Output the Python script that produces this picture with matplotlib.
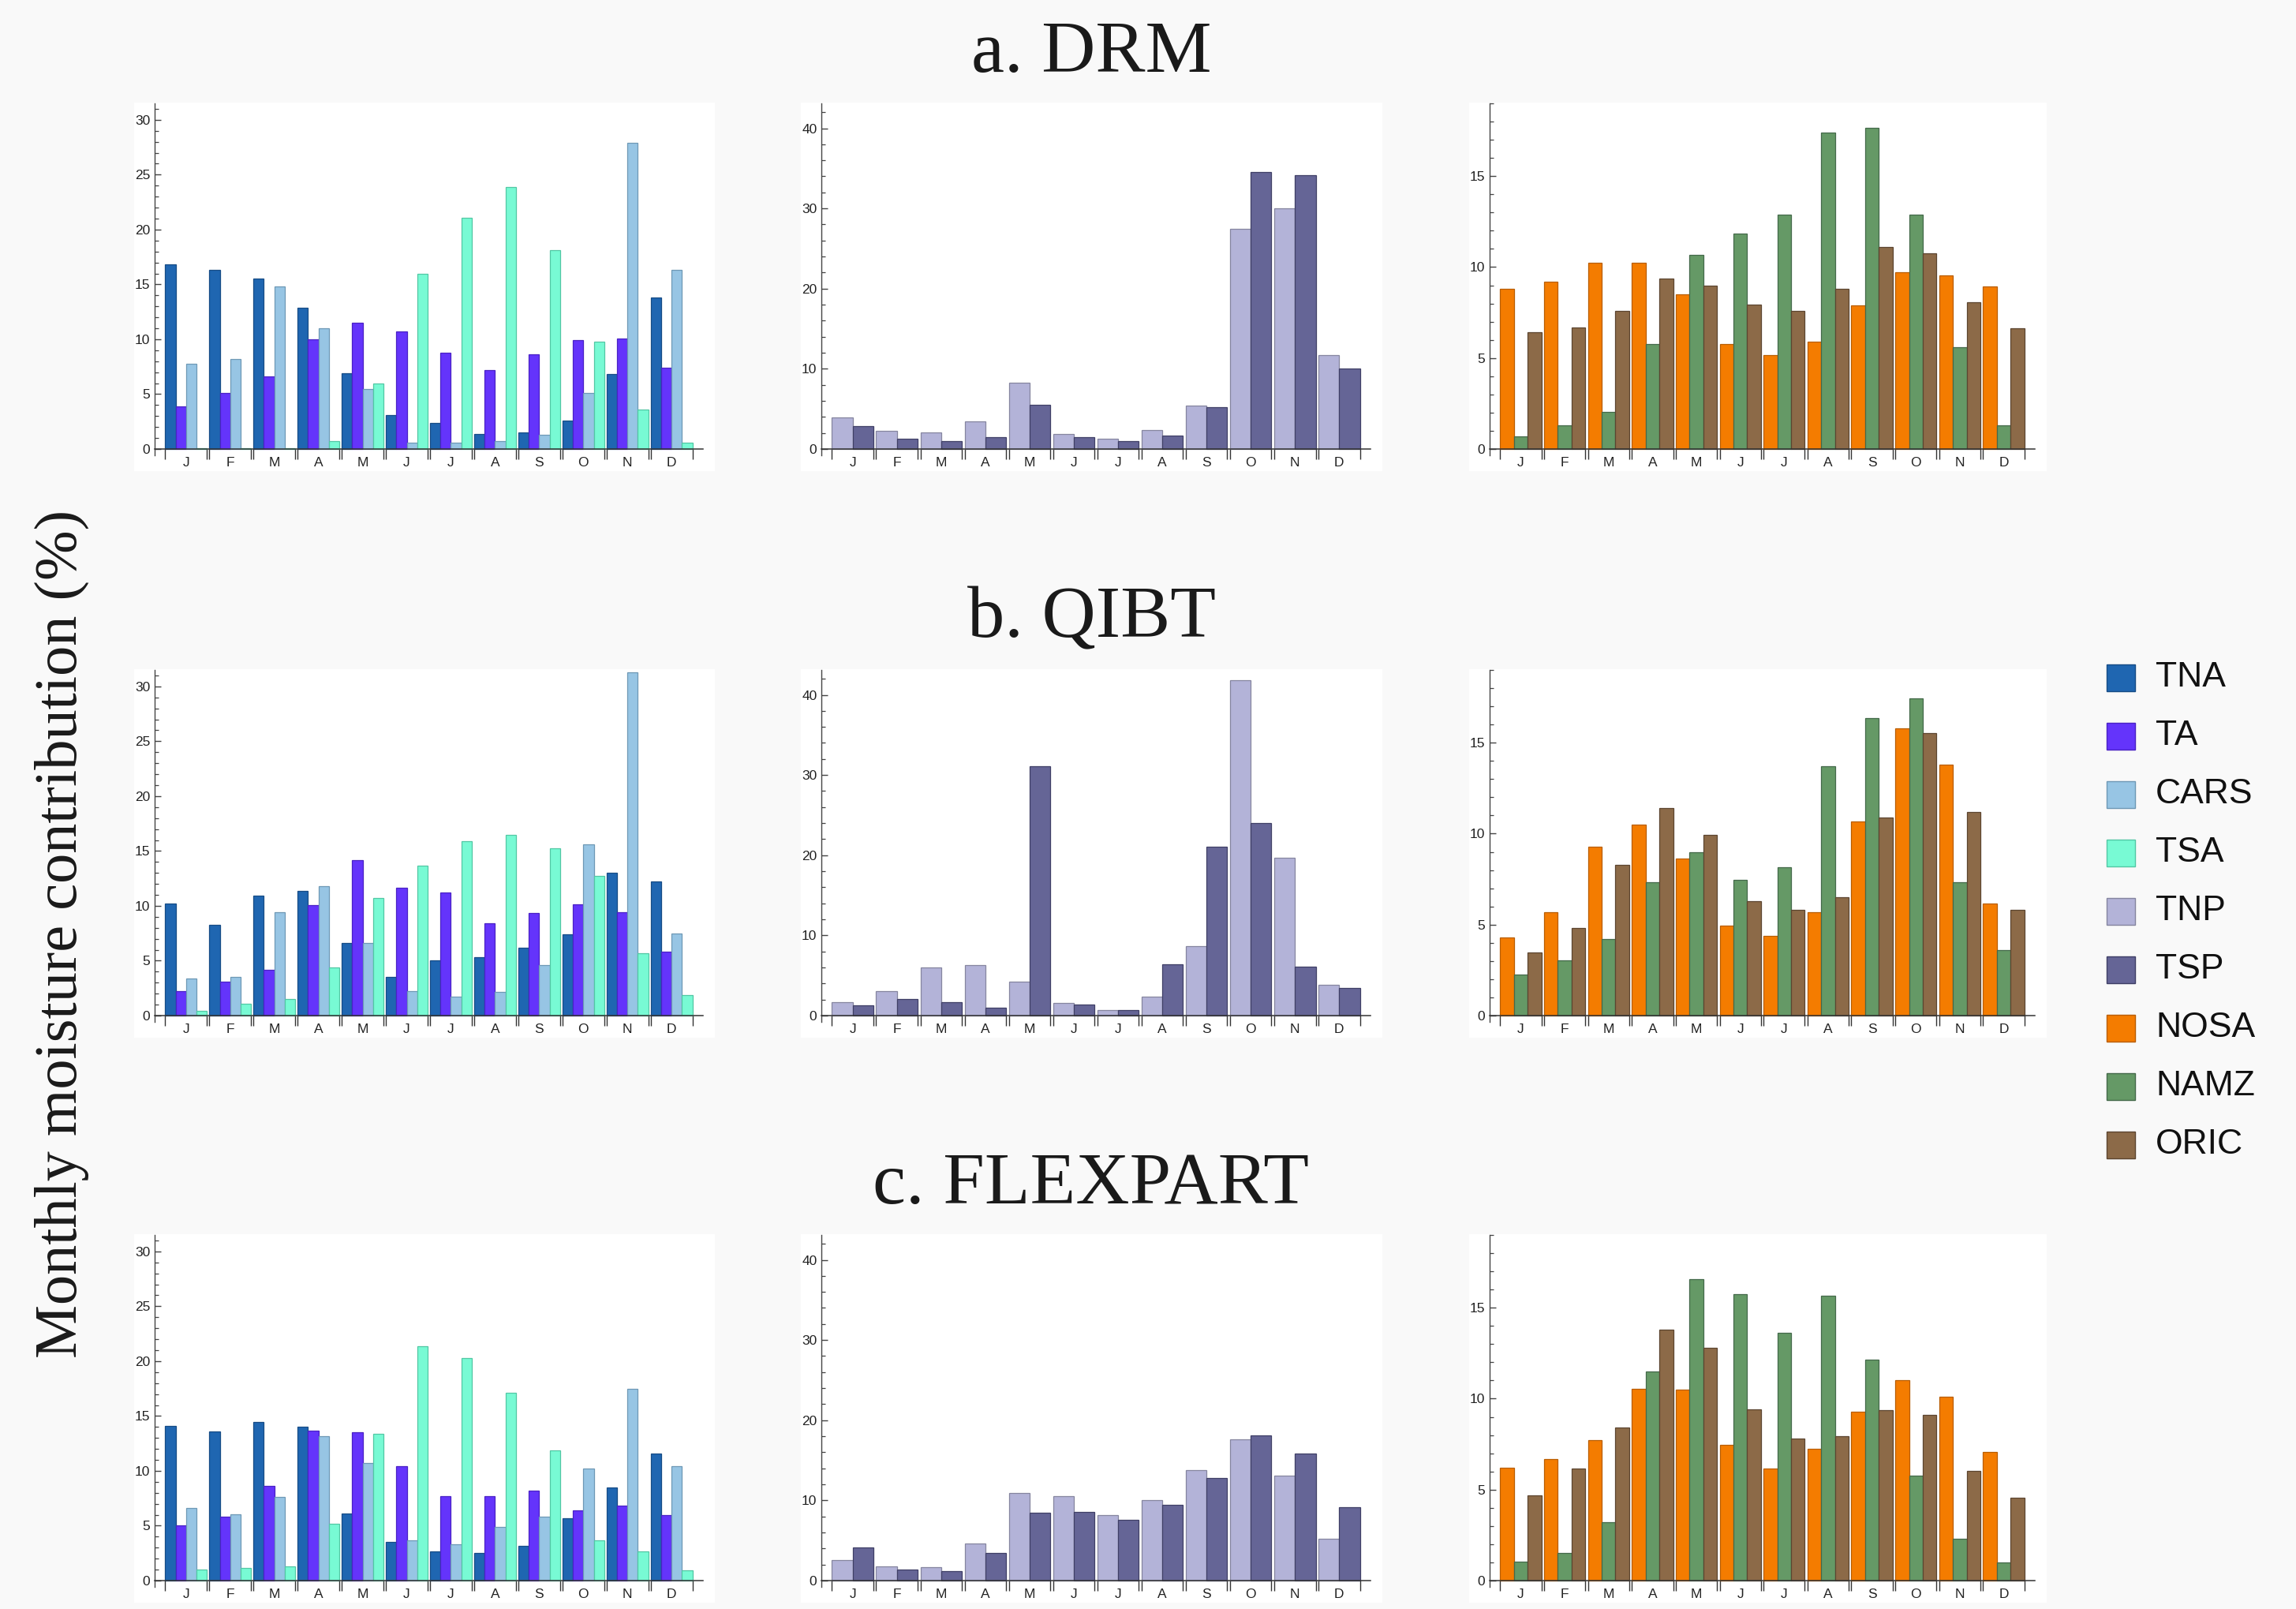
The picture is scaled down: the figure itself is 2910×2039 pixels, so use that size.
import numpy as np
import matplotlib
matplotlib.use('Agg')
from matplotlib import pyplot as plt
from matplotlib.patches import Rectangle
from matplotlib.ticker import MultipleLocator

months = ['J', 'F', 'M', 'A', 'M', 'J', 'J', 'A', 'S', 'O', 'N', 'D']

# DRM
drm_tna = [16.8, 16.3, 15.5, 12.9, 6.9, 3.1, 2.4, 1.4, 1.5, 2.6, 6.8, 13.8]
drm_ta = [3.9, 5.1, 6.6, 10.0, 11.5, 10.7, 8.8, 7.2, 8.6, 9.9, 10.1, 7.4]
drm_cars = [7.8, 8.2, 14.8, 11.0, 5.5, 0.6, 0.55, 0.75, 1.3, 5.1, 27.9, 16.3]
drm_tsa = [0.05, 0.1, 0.05, 0.7, 6.0, 16.0, 21.1, 23.9, 18.1, 9.8, 3.6, 0.6]
drm_tnp = [3.9, 2.3, 2.1, 3.45, 8.3, 1.85, 1.3, 2.4, 5.45, 27.5, 30.0, 11.7]
drm_tsp = [2.9, 1.3, 0.95, 1.5, 5.5, 1.5, 0.95, 1.65, 5.2, 34.55, 34.1, 10.0]
drm_nosa = [8.8, 9.2, 10.25, 10.25, 8.5, 5.75, 5.15, 5.9, 7.9, 9.7, 9.55, 8.95]
drm_namz = [0.7, 1.3, 2.05, 5.75, 10.65, 11.85, 12.9, 17.4, 17.65, 12.9, 5.6, 1.3]
drm_oric = [6.4, 6.7, 7.6, 9.35, 9.0, 7.95, 7.6, 8.8, 11.1, 10.75, 8.05, 6.65]

# QIBT
qibt_tna = [10.2, 8.3, 10.9, 11.35, 6.6, 3.5, 5.05, 5.3, 6.15, 7.4, 13.0, 12.2]
qibt_ta = [2.25, 3.1, 4.2, 10.1, 14.2, 11.65, 11.2, 8.45, 9.35, 10.15, 9.45, 5.8]
qibt_cars = [3.4, 3.55, 9.4, 11.8, 6.6, 2.25, 1.7, 2.15, 4.6, 15.6, 31.3, 7.5]
qibt_tsa = [0.4, 1.1, 1.5, 4.4, 10.7, 13.7, 15.9, 16.5, 15.25, 12.7, 5.65, 1.9]
qibt_tnp = [1.7, 3.05, 6.05, 6.3, 4.2, 1.55, 0.65, 2.35, 8.7, 41.85, 19.7, 3.8]
qibt_tsp = [1.3, 2.05, 1.65, 1.0, 31.05, 1.4, 0.65, 6.35, 21.1, 24.0, 6.15, 3.4]
qibt_nosa = [4.3, 5.7, 9.3, 10.5, 8.65, 4.95, 4.4, 5.7, 10.65, 15.8, 13.8, 6.15]
qibt_namz = [2.25, 3.05, 4.2, 7.35, 9.0, 7.45, 8.15, 13.7, 16.35, 17.45, 7.35, 3.6]
qibt_oric = [3.45, 4.8, 8.3, 11.4, 9.95, 6.3, 5.8, 6.5, 10.9, 15.55, 11.2, 5.8]

# FLEXPART
flex_tna = [14.1, 13.6, 14.45, 14.05, 6.1, 3.5, 2.65, 2.5, 3.2, 5.65, 8.5, 11.6]
flex_ta = [5.0, 5.8, 8.6, 13.65, 13.55, 10.45, 7.7, 7.7, 8.2, 6.4, 6.8, 6.0]
flex_cars = [6.6, 6.05, 7.6, 13.15, 10.7, 3.7, 3.3, 4.9, 5.85, 10.2, 17.45, 10.4]
flex_tsa = [1.0, 1.15, 1.3, 5.2, 13.35, 21.35, 20.25, 17.15, 11.85, 3.65, 2.65, 0.9]
flex_tnp = [2.55, 1.75, 1.7, 4.6, 10.9, 10.5, 8.15, 10.0, 13.75, 17.6, 13.1, 5.2]
flex_tsp = [4.1, 1.4, 1.15, 3.4, 8.45, 8.55, 7.55, 9.45, 12.8, 18.1, 15.8, 9.15]
flex_nosa = [6.2, 6.7, 7.7, 10.55, 10.5, 7.45, 6.15, 7.25, 9.3, 11.0, 10.1, 7.05]
flex_namz = [1.05, 1.5, 3.2, 11.5, 16.55, 15.75, 13.6, 15.65, 12.15, 5.75, 2.3, 1.0]
flex_oric = [4.7, 6.15, 8.4, 13.8, 12.8, 9.4, 7.8, 7.95, 9.35, 9.1, 6.05, 4.55]

titles = ['a. DRM', 'b. QIBT', 'c. FLEXPART']
regions = ['TNA', 'TA', 'CARS', 'TSA', 'TNP', 'TSP', 'NOSA', 'NAMZ', 'ORIC']
colors = ['#1f66b1', '#6434fb', '#97c5e4', '#78fad4', '#b3b3d8',
          '#656596', '#f47c00', '#659966', '#8c6a48']
edges = ['#174c85', '#4a22c4', '#6e98b5', '#52c7a4', '#85859f',
         '#3f3f66', '#b85d00', '#44694a', '#5c4530']

W, H = 2910, 2039


def frac(l, t, r, b):
    return [l / W, 1 - b / H, (r - l) / W, (b - t) / H]


def draw_panel(fig, rect, series, idx, ytop, major, minor):
    l, t, r, zero = rect
    # white panel background
    fig.add_artist(Rectangle((( l - 26) / W, 1 - (zero + 28) / H),
                             (r - l + 41) / W, (zero + 28 - t + 1) / H,
                             transform=fig.transFigure, facecolor='white',
                             edgecolor='none', zorder=-1))
    ax = fig.add_axes(frac(l, t, r, zero + 8))
    ax.patch.set_visible(False)
    n = len(series)
    gw = 0.94
    bw = gw / n
    x = np.arange(12)
    for k, vals in enumerate(series):
        c = idx[k]
        ax.bar(x - gw / 2 + (k + 0.5) * bw, vals, width=bw,
               color=colors[c], edgecolor=edges[c], linewidth=0.9, zorder=2)
    ax.set_xlim(-0.71, 11.71)
    ax.set_ylim(-8 * ytop / (zero - t), ytop)
    for s in ['top', 'right']:
        ax.spines[s].set_visible(False)
    ax.spines['bottom'].set_position(('data', 0))
    ax.spines['bottom'].set_color('#333333')
    ax.spines['left'].set_color('#444444')
    ax.spines['bottom'].set_linewidth(1.1)
    ax.spines['left'].set_linewidth(1.0)

    seps = []
    for i in range(12):
        seps += [i - gw / 2, i + gw / 2]
    ax.set_xticks(seps)
    ax.set_xticks(x, minor=True)
    ax.set_xticklabels(months, minor=True)
    ax.tick_params(axis='x', which='major', direction='out', length=9,
                   width=1.0, color='#333333', labelbottom=False)
    ax.tick_params(axis='x', which='minor', length=0, pad=7,
                   labelsize=12.5, labelcolor='#222222')

    ax.yaxis.set_major_locator(MultipleLocator(major))
    ax.yaxis.set_minor_locator(MultipleLocator(minor))
    ax.tick_params(axis='y', which='major', direction='in', length=6,
                   width=1.0, color='#444444', labelsize=12.5,
                   labelcolor='#222222', pad=4)
    ax.tick_params(axis='y', which='minor', direction='in', length=3.5,
                   width=0.9, color='#444444')
    return ax


def main():
    plt.rcParams['font.family'] = ['Liberation Sans', 'DejaVu Sans']
    fig = plt.figure(figsize=(29.1, 20.39), dpi=100, facecolor='#f9f9f9')

    data = [
        [[drm_tna, drm_ta, drm_cars, drm_tsa], [drm_tnp, drm_tsp],
         [drm_nosa, drm_namz, drm_oric]],
        [[qibt_tna, qibt_ta, qibt_cars, qibt_tsa], [qibt_tnp, qibt_tsp],
         [qibt_nosa, qibt_namz, qibt_oric]],
        [[flex_tna, flex_ta, flex_cars, flex_tsa], [flex_tnp, flex_tsp],
         [flex_nosa, flex_namz, flex_oric]],
    ]
    col_idx = [[0, 1, 2, 3], [4, 5], [6, 7, 8]]
    col_left = [196, 1041, 1888]
    col_right = [891, 1737, 2579]
    col_top = [31.5, 43.1, 19.0]
    col_major = [5, 10, 5]
    col_minor = [1, 2, 1]
    row_zero = [569, 1287, 2003]
    title_y = [69, 785, 1503]

    for row in range(3):
        z = row_zero[row]
        for col in range(3):
            draw_panel(fig, (col_left[col], z - 438, col_right[col], z),
                       data[row][col], col_idx[col], col_top[col],
                       col_major[col], col_minor[col])
        fig.text(1383 / W, 1 - title_y[row] / H, titles[row],
                 family=['Liberation Serif', 'DejaVu Serif'], fontsize=68,
                 ha='center', va='center', color='#1a1a1a')

    fig.text(78 / W, 1 - 1183 / H, 'Monthly moisture contribution (%)',
             family=['Liberation Serif', 'DejaVu Serif'], fontsize=55,
             rotation=90, ha='center', va='center', color='#1a1a1a')

    # legend
    for i, name in enumerate(regions):
        yc = 859 + i * 74
        fig.add_artist(Rectangle((2670 / W, 1 - (yc + 17) / H), 36 / W, 34 / H,
                                 transform=fig.transFigure,
                                 facecolor=colors[i], edgecolor=edges[i],
                                 linewidth=1.0))
        fig.text(2732 / W, 1 - yc / H, name, fontsize=32,
                 ha='left', va='center', color='#111111')

    fig.savefig('out.png', dpi=100, facecolor=fig.get_facecolor())


if __name__ == "__main__":
    main()
